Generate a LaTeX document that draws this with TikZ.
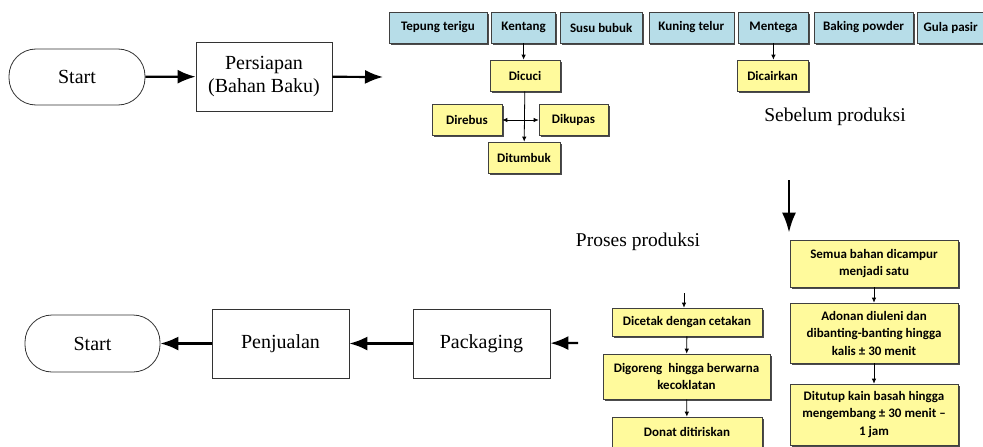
\documentclass[tikz,border=0pt]{standalone}
\usepackage{fontspec}
\setmainfont{Liberation Serif}
\newfontfamily\boxfont{Carlito}
\usepackage{xcolor}
\usepackage{tikz}
\usetikzlibrary{arrows.meta,positioning,shadows}

\definecolor{bluebox}{HTML}{B7DDE8}
\definecolor{yellowbox}{HTML}{FFFA9C}

\begin{document}
\begin{tikzpicture}[
    x=1pt, y=-1pt,
    flow/.style={
        rectangle, draw=black!80, line width=0.8pt,
        align=center, inner sep=0pt,
        font=\fontsize{20}{23}\selectfont,
    },
    term/.style={
        flow, rounded corners=27pt,
    },
    kotak/.style={
        rectangle, draw=black!75, line width=0.6pt,
        align=center, inner sep=0pt, minimum height=31pt,
        font=\boxfont\bfseries\fontsize{13}{17.5}\selectfont,
        general shadow={shadow xshift=1.6pt, shadow yshift=-1.6pt, fill=black!70},
    },
    bahan/.style={kotak, fill=bluebox},
    olah/.style={kotak, fill=yellowbox},
    arr/.style={-{Latex[length=18pt,width=14pt]}, line width=2.2pt},
    sarr/.style={-{Latex[length=5pt,width=4.5pt]}, line width=0.8pt},
    darr/.style={{Latex[length=5pt,width=4.5pt]}-{Latex[length=5pt,width=4.5pt]}, line width=0.8pt},
    judul/.style={font=\fontsize{19.5}{22}\selectfont},
]
\useasboundingbox (0,0) rectangle (983,447);

% Sebelum produksi
\node[term, minimum width=136pt, minimum height=56pt] (st1) at (77,77) {Start};
\node[flow, minimum width=136pt, minimum height=69pt] (p1) at (264,76.5) {Persiapan\\(Bahan Baku)};
\coordinate (p1out) at (383,77);

\draw[arr] (st1) -- (p1);
\draw[arr] (p1) -- (p1out);

% Bahan baku
\node[bahan, minimum width=98pt] (b1) at (438,27.5) {Tepung terigu};
\node[bahan, minimum width=64pt, right=4pt of b1] (b2) {Kentang};
\node[bahan, minimum width=82pt, right=4pt of b2] (b3) {Susu bubuk};
\node[bahan, minimum width=85pt, right=6pt of b3] (b4) {Kuning telur};
\node[bahan, minimum width=70pt, right=4pt of b4] (b5) {Mentega};
\node[bahan, minimum width=99pt, right=5pt of b5] (b6) {Baking powder};
\node[bahan, minimum width=66pt, right=4pt of b6] (b7) {Gula pasir};

\node[olah, minimum width=70pt] (y1a) at (525,75.5) {Dicuci};
\node[olah, minimum width=70pt] (y1b) at (467,120) {Direbus};
\node[olah, minimum width=69pt] (y1c) at (573.5,120) {Dikupas};
\node[olah, minimum width=72pt] (y1d) at (524,157.5) {Ditumbuk};
\node[olah, minimum width=71pt] (y1e) at (772.5,75.5) {Dicairkan};

\draw[sarr] (b2.south) -- (b2.south |- y1a.north);
\draw[sarr] (y1a) -- (y1d);
\draw[darr] (y1b) -- (y1c);
\draw[sarr] (b5.south) -- (b5.south |- y1e.north);

\node[judul] (lbl1) at (835,117) {Sebelum produksi};

% Proses produksi
\coordinate (turun) at (789,180);
\node[olah, minimum width=168pt, minimum height=47pt] (y2a) at (874,263.5) {Semua bahan dicampur\\menjadi satu};
\node[olah, minimum width=168pt, minimum height=60pt] (y2b) at (874,333) {Adonan diuleni dan\\dibanting-banting hingga\\kalis ± 30 menit};
\node[olah, minimum width=168pt, minimum height=61pt] (y2c) at (874,414.5) {Ditutup kain basah hingga\\mengembang ± 30 menit –\\1 jam};

\draw[arr, line width=2.6pt, -{Latex[length=20pt,width=14pt]}, shorten >=7pt] (turun) -- (turun |- y2a.north);
\draw[sarr] (y2a) -- (y2b);
\draw[sarr] (y2b) -- (y2c);

\coordinate (masuk) at (684,293);
\node[olah, minimum width=150pt, minimum height=28pt] (y3a) at (687,322) {Dicetak dengan cetakan};
\node[olah, minimum width=167pt, minimum height=45pt] (y3b) at (686.5,376.5) {Digoreng\ \ hingga berwarna\\kecoklatan};
\node[olah, minimum width=150pt, minimum height=30pt] (y3c) at (687,432) {Donat ditiriskan};

\draw[sarr] (masuk) -- (masuk |- y3a.north);
\draw[sarr] (y3a) -- (y3b);
\draw[sarr] (y3b) -- (y3c);

\node[judul] (lbl2) at (638,242) {Proses produksi};

% Setelah produksi
\coordinate (kemas) at (578,343);
\node[flow, minimum width=137pt, minimum height=69pt] (p2) at (481.5,343.5) {Packaging};
\node[flow, minimum width=137pt, minimum height=69pt] (p3) at (280.5,343.5) {Penjualan};
\node[term, minimum width=135pt, minimum height=57pt] (st2) at (92.5,343.5) {Start};

\draw[arr] (kemas) -- (p2);
\draw[arr] (p2) -- (p3);
\draw[arr] (p3) -- (st2);

\end{tikzpicture}
\end{document}
